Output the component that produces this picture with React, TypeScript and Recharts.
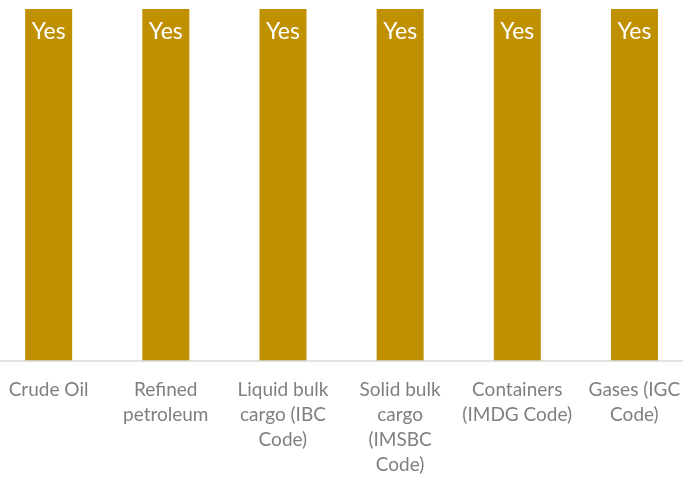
import { Bar, BarChart, LabelList, XAxis, YAxis } from 'recharts'

const categoryLines = [
  ['Crude Oil'],
  ['Refined', 'petroleum'],
  ['Liquid bulk', 'cargo (IBC', 'Code)'],
  ['Solid bulk', 'cargo', '(IMSBC', 'Code)'],
  ['Containers', '(IMDG Code)'],
  ['Gases (IGC', 'Code)'],
]
const categories = categoryLines.map((l) => l.join(' '))
const values = [1, 1, 1, 1, 1, 1]
const labels = ['Yes', 'Yes', 'Yes', 'Yes', 'Yes', 'Yes']

const data = categories.map((name, i) => ({ name, value: values[i], label: labels[i] }))

const FONT = 'Lato, "Open Sans", sans-serif'

function WrappedTick(props: any) {
  const { x, y, index } = props
  const lines = categoryLines[index] || []
  return (
    <text x={x} y={y} textAnchor="middle" fill="#7f7f7f" fontSize={19} fontFamily={FONT}>
      {lines.map((line, i) => (
        <tspan key={i} x={x} dy={i === 0 ? 27 : 25}>{line}</tspan>
      ))}
    </text>
  )
}

export default function App() {
  return (
    <div style={{ position: 'fixed', left: 0, top: 0, width: 683, height: 479, overflow: 'hidden' }}>
      <div style={{ position: 'absolute', left: -10, top: 0 }}>
        <BarChart width={703} height={479} data={data} margin={{ top: 9, right: 0, left: 0, bottom: 0 }} barCategoryGap="30%">
          <XAxis
            dataKey="name"
            interval={0}
            tickLine={false}
            axisLine={{ stroke: '#d9d9d9', strokeWidth: 1.5 }}
            tick={<WrappedTick />}
            height={118}
          />
          <YAxis hide domain={[0, 1]} />
          <Bar dataKey="value" fill="#bf9000" isAnimationActive={false}>
            <LabelList dataKey="label" position="insideTop" offset={14} fill="#ffffff" fontSize={23} fontFamily={FONT} />
          </Bar>
        </BarChart>
      </div>
    </div>
  )
}
